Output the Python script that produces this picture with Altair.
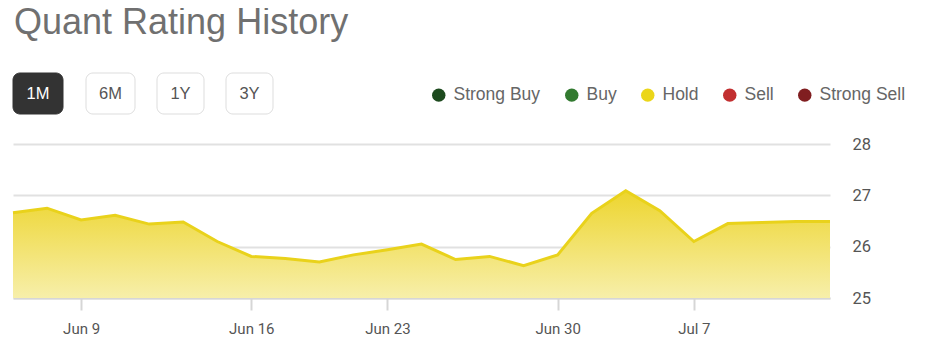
import altair as alt
import pandas as pd

# ---- data ----
dates = ["Jun 5", "Jun 6", "Jun 9", "Jun 10", "Jun 11", "Jun 12", "Jun 13",
         "Jun 16", "Jun 17", "Jun 18", "Jun 20",
         "Jun 23", "Jun 24", "Jun 25", "Jun 26", "Jun 27",
         "Jun 30", "Jul 1", "Jul 2", "Jul 3",
         "Jul 7", "Jul 8", "Jul 9", "Jul 10", "Jul 11"]
scores = [26.66, 26.75, 26.52, 26.61, 26.44, 26.48, 26.10,
          25.81, 25.77, 25.70, 25.84,
          25.94, 26.05, 25.75, 25.81, 25.63,
          25.84, 26.65, 27.09, 26.70,
          26.10, 26.45, 26.47, 26.49, 26.49]
x_tick_labels = ["Jun 9", "Jun 16", "Jun 23", "Jun 30", "Jul 7"]
y_ticks = [25, 26, 27, 28]
ratings = ["Strong Buy", "Buy", "Hold", "Sell", "Strong Sell"]
rating_colors = ["#1d4a1e", "#327a30", "#ebd61a", "#c22f30", "#801e20"]
buttons = ["1M", "6M", "1Y", "3Y"]
title_text = "Quant Rating History"

df = pd.DataFrame({"date": dates, "score": scores})

# ---- layout (pixels relative to plot origin) ----
W, H = 817, 154
btn_left = [0, 73, 144, 213]
btn_right = [50, 122, 191, 260]
btn_top, btn_bottom = -71, -30

x_enc = alt.X("date:N", sort=None,
              scale=alt.Scale(type="point", padding=0),
              axis=alt.Axis(values=x_tick_labels, labelAngle=0, title=None,
                            grid=False, labelFont="Roboto", labelFontSize=15,
                            labelColor="#555555", domainColor="#d6d6d6",
                            domainWidth=2, tickColor="#d6d6d6", tickWidth=2,
                            tickSize=12, labelPadding=11))
y_enc = alt.Y("score:Q",
              scale=alt.Scale(domain=[25, 28], nice=False, zero=False),
              axis=alt.Axis(orient="right", values=y_ticks, title=None,
                            grid=True, gridColor="#e1e1e1", gridWidth=2,
                            domain=False, ticks=False, labelFont="Roboto",
                            labelFontSize=16.5, labelColor="#555555",
                            labelPadding=22))

area = alt.Chart(df).mark_area(
    color=alt.Gradient(gradient="linear",
                       stops=[alt.GradientStop(color="#edd52e", offset=0),
                              alt.GradientStop(color="#f7efaa", offset=1)],
                       x1=1, x2=1, y1=0, y2=1)
).encode(x=x_enc, y=y_enc, y2=alt.datum(25))

line = alt.Chart(df).mark_line(color="#e9d21b", strokeWidth=3).encode(
    x=alt.X("date:N", sort=None), y="score:Q")

legend_layer = alt.Chart(pd.DataFrame({"rating": ratings})).mark_circle(
    opacity=0, size=0
).encode(
    x=alt.value(0), y=alt.value(0),
    color=alt.Color("rating:N",
                    scale=alt.Scale(domain=ratings, range=rating_colors),
                    legend=alt.Legend(orient="none", legendX=417, legendY=-58,
                                      direction="horizontal", title=None,
                                      symbolType="circle", symbolSize=180,
                                      symbolOpacity=1, symbolStrokeWidth=0,
                                      labelFont="Liberation Sans",
                                      labelFontSize=17.5, labelColor="#666666",
                                      labelOffset=6, columnPadding=22))
)

title_layer = alt.Chart(pd.DataFrame({"t": [title_text]})).mark_text(
    align="left", baseline="alphabetic", font="Liberation Sans",
    fontSize=36, color="#707070"
).encode(x=alt.value(1), y=alt.value(-110), text="t:N")

layers = [area, line, legend_layer, title_layer]
for i, lab in enumerate(buttons):
    active = i == 0
    bdf = pd.DataFrame({"label": [lab]})
    rect = alt.Chart(bdf).mark_rect(
        cornerRadius=7,
        fill="#333333" if active else "#ffffff",
        stroke="#333333" if active else "#dddddd",
        strokeWidth=1
    ).encode(x=alt.value(btn_left[i]), x2=alt.value(btn_right[i]),
             y=alt.value(btn_top), y2=alt.value(btn_bottom))
    txt = alt.Chart(bdf).mark_text(
        align="center", baseline="middle", font="Liberation Sans",
        fontSize=16.5, color="#ffffff" if active else "#555555"
    ).encode(x=alt.value((btn_left[i] + btn_right[i]) / 2),
             y=alt.value((btn_top + btn_bottom) / 2), text="label:N")
    layers += [rect, txt]

chart = alt.layer(*layers).properties(
    width=W, height=H,
    autosize=alt.AutoSizeParams(type="none"),
    padding={"left": 5, "top": 136, "right": 82, "bottom": 45}
).configure(background="#ffffff", view=alt.ViewConfig(stroke=None))

chart.save("out.html", embed_options={"renderer": "svg", "actions": False})
